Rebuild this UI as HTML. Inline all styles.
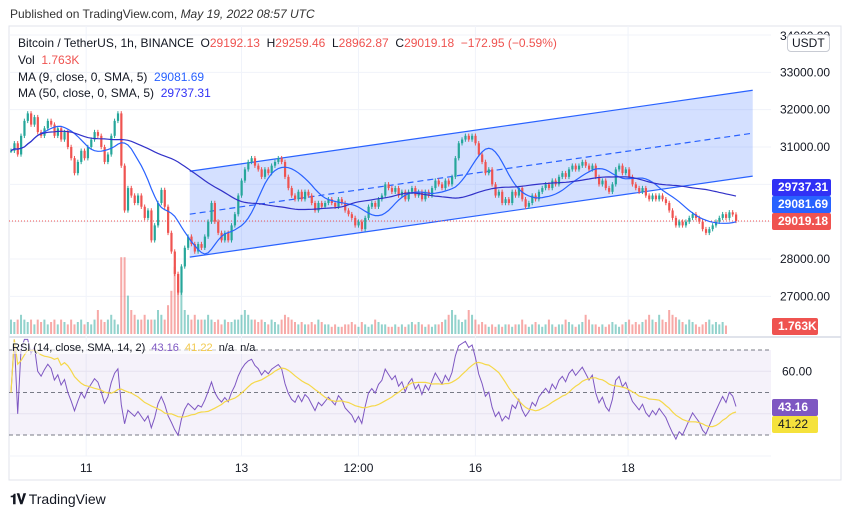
<!DOCTYPE html>
<html><head><meta charset="utf-8"><style>
body{margin:0;width:851px;height:518px;background:#fff;font-family:"Liberation Sans",sans-serif;overflow:hidden;position:relative;color:#131722}
.t{position:absolute;font-size:12px;white-space:nowrap}
.lbl{position:absolute;color:#fff;font-size:12px;font-weight:bold;height:17px;line-height:17px;padding-left:6px;border-radius:2px}
</style></head><body>
<div class="t" style="left:10px;top:7px;color:#333">Published on TradingView.com, <i>May 19, 2022 08:57 UTC</i></div>
<svg id="c" width="851" height="518" style="position:absolute;left:0;top:0"></svg>
<div class="t" style="left:18px;top:36px">Bitcoin / TetherUS, 1h, BINANCE &nbsp;O<span style="color:#ef5350">29192.13</span> &nbsp;H<span style="color:#ef5350">29259.46</span> &nbsp;L<span style="color:#ef5350">28962.87</span> &nbsp;C<span style="color:#ef5350">29019.18 &nbsp;−172.95 (−0.59%)</span></div>
<div class="t" style="left:18px;top:53px">Vol &nbsp;<span style="color:#ef5350">1.763K</span></div>
<div class="t" style="left:18px;top:70px">MA (9, close, 0, SMA, 5) &nbsp;<span style="color:#2962ff">29081.69</span></div>
<div class="t" style="left:18px;top:86px">MA (50, close, 0, SMA, 5) &nbsp;<span style="color:#3131f5">29737.31</span></div>
<div class="t" style="left:12px;top:342px;font-size:11px;background:rgba(255,255,255,0.6)">RSI (14, close, SMA, 14, 2) &nbsp;<span style="color:#7e57c2">43.16</span> &nbsp;<span style="color:#f2c94c">41.22</span> &nbsp;n/a &nbsp;n/a</div>
<div class="t" style="left:787px;top:34px;border:1px solid #c8cbd3;border-radius:4px;padding:1px 4px;background:#fff">USDT</div>
<div class="lbl" style="left:772px;top:179px;width:53px;background:#3131f5">29737.31</div>
<div class="lbl" style="left:772px;top:196px;width:53px;background:#2962ff">29081.69</div>
<div class="lbl" style="left:772px;top:213px;width:53px;background:#ef5350">29019.18</div>
<div class="lbl" style="left:772px;top:318px;width:40px;background:#ef5350">1.763K</div>
<div class="lbl" style="left:772px;top:399px;width:40px;background:#7e57c2">43.16</div>
<div class="lbl" style="left:772px;top:416px;width:40px;background:#f5e23c;color:#131722;font-weight:normal">41.22</div>
<div class="t" style="left:10px;top:491px;font-size:14px"><b style="letter-spacing:-1px">𝟏𝐕</b> TradingView</div>
<script>
const closes=[30900,31100,30800,31300,31700,31900,31600,31800,31400,31300,31500,31700,31600,31300,31500,31200,31400,31000,30700,30300,30600,30900,30700,31000,31200,31400,31300,31000,30600,30800,31300,31700,31900,30500,29300,29900,29700,29500,29700,29400,29100,29300,28500,28900,29500,29850,29400,28700,28200,27600,27100,27800,28300,28600,28400,28200,28400,28300,28600,29000,29500,29000,28700,28500,28700,28500,28900,29200,29700,30100,30400,30600,30700,30500,30400,30200,30400,30300,30500,30600,30700,30600,30200,29900,29700,29600,29800,29600,29800,29700,29500,29300,29500,29400,29500,29600,29500,29400,29600,29500,29300,29200,29100,28900,29000,28800,29100,29400,29500,29400,29600,29700,30000,29900,29800,29900,29700,29800,29600,29800,29900,29700,29800,29600,29800,29700,29900,30100,30000,29900,30100,30000,30200,30700,31100,31200,31300,31200,31300,31100,30800,30600,30300,30400,30000,29700,29800,29500,29600,29500,29800,29700,29900,29600,29400,29500,29700,29600,29800,29900,30000,29900,30100,30000,30200,30300,30200,30400,30500,30400,30500,30600,30500,30400,30500,30200,30000,30100,29900,29800,30000,30400,30500,30300,30400,30200,30000,29900,29800,29900,29700,29600,29700,29600,29700,29600,29500,29300,29100,28900,29000,28900,29000,29100,29200,29100,29000,28800,28700,28800,28900,29000,29100,29200,29100,29250,29192.13,29019.18];
const volumes=[3,2.5,3,4,3,2.5,3,2,3,2.5,3,2,2.5,3,2,3,2.5,2,3,2,2.5,3,2,2.5,2,3,5,3,2.5,3,4,3,2,16,16,8,5,4,3,3,4,3,3,3,5,4,3,6,9,14,12,9,5,4,3,4,3,3,3,4,3,2.5,3,2,3,2.5,2.5,3,3,4,5,4,3,3,2.5,3,2.5,2,3,2.5,2,3,4,3.5,3,2.5,2,2.5,2,2,2.5,2,3,2.5,2,2,1.5,2,1.5,1.5,2,2,2.5,2,1.5,2.5,2,1.5,2,3,2.5,2,2,1.5,1.5,2,1.5,2,1.5,2,2.5,2,2.5,2,1.5,2,1.5,2,2,2.5,3,4,5,4,3,2.5,3,5,4,3,2,2.5,2,1.5,2,1.5,2,1.5,2,2,1.5,2,2,3,2,1.5,2,2.5,2,1.5,2,3,2,1.5,2,2,3,2.5,2,1.5,2,2.5,4,3,2,2,1.5,2,1.5,2,2.5,2,1.5,2,2.5,3,2,2.5,2,2.5,3,4,3,2.5,4,3,2.5,5,4,3.5,3,2.5,2,3,2.5,2,1.5,2,2.5,3,2,2.5,2,2.5,1.763];
const priceTicks=[34000,33000,32000,31000,30000,29000,28000,27000];
const priceTickLabels=["","33000.00","32000.00","31000.00","","","28000.00","27000.00"];
const timeLabels=["11","13","12:00","16","18"];
const timeIdx=[22.5,69,104,139,184.7];
const channelIdx=[53.5,222];
const channelLow=[28050,30220];
const channelWidth=2300;

const svg=document.getElementById('c');const NS='http://www.w3.org/2000/svg';
function el(tag,a,parent){const e=document.createElementNS(NS,tag);for(const k in a)e.setAttribute(k,a[k]);(parent||svg).appendChild(e);return e;}
const n=closes.length;
const X=i=>11+i*(736-11)/(n-1);
const Y=p=>147+(31000-p)*0.03733;
const RY=v=>350+(70-v)*2.125;
const VY=v=>334-v*4.8;
let f=el('rect',{x:9,y:26,width:832,height:454,fill:'none',stroke:'#e0e3eb'});


el('line',{x1:9,y1:337,x2:841,y2:337,stroke:'#e0e3eb','stroke-width':2});
el('line',{x1:9,y1:456,x2:771,y2:456,stroke:'#f0f3fa'});
priceTicks.forEach((p,k)=>{const y=Y(p);if(y<28)return;
 el('line',{x1:9,y1:y,x2:771,y2:y,stroke:'#f0f3fa'});
 if(priceTickLabels[k]){const t=el('text',{x:780,y:y+4,'font-size':12,fill:'#131722','font-family':'Liberation Sans'});t.textContent=priceTickLabels[k];
 
 }
});
{const t=el('text',{x:780,y:40,'font-size':12,fill:'#131722'});t.textContent='34000.00';}
timeLabels.forEach((s,k)=>{const x=X(timeIdx[k]);
 el('line',{x1:x,y1:26,x2:x,y2:456,stroke:'#f0f3fa'});
 const t=el('text',{x:x,y:472,'font-size':12,fill:'#131722','text-anchor':'middle'});t.textContent=s;
 
 
});
el('rect',{x:9,y:RY(70),width:762,height:RY(30)-RY(70),fill:'rgba(126,87,194,0.08)'});
[70,50,30].forEach(v=>el('line',{x1:9,y1:RY(v),x2:771,y2:RY(v),stroke:'#787b86','stroke-dasharray':'4,3'}));
[60,40].forEach(v=>el('line',{x1:9,y1:RY(v),x2:771,y2:RY(v),stroke:'#e6e2f0'}));
{const t=el('text',{x:782,y:RY(60)+4,'font-size':12,fill:'#131722'});t.textContent='60.00';}
const cx1=X(channelIdx[0]),cx2=X(channelIdx[1]);
const l1=Y(channelLow[0]),l2=Y(channelLow[1]),u1=Y(channelLow[0]+channelWidth),u2=Y(channelLow[1]+channelWidth),m1=(l1+u1)/2,m2=(l2+u2)/2;
let ch=el('polygon',{points:`${cx1},${u1} ${cx2},${u2} ${cx2},${l2} ${cx1},${l1}`,fill:'rgba(41,98,255,0.2)'});


el('line',{x1:cx1,y1:u1,x2:cx2,y2:u2,stroke:'#2962ff','stroke-width':1.2});
el('line',{x1:cx1,y1:l1,x2:cx2,y2:l2,stroke:'#2962ff','stroke-width':1.2});
el('line',{x1:cx1,y1:m1,x2:cx2,y2:m2,stroke:'#2962ff','stroke-width':1.2,'stroke-dasharray':'6,4'});
closes.forEach((c,i)=>{const o=i?closes[i-1]:c;const up=c>=o;
 const r=el('rect',{x:X(i)-1,y:VY(volumes[i]),width:2,height:334-VY(volumes[i]),fill:up?'rgba(38,166,154,0.5)':'rgba(239,83,80,0.5)'});
 
 
});
el('line',{x1:9,y1:Y(29019.18),x2:771,y2:Y(29019.18),stroke:'#ef5350','stroke-dasharray':'1,2'});
closes.forEach((c,i)=>{const o=i?closes[i-1]:c;const up=c>=o;const col=up?'#26a69a':'#ef5350';
 const hi=Math.max(o,c)+60,lo=Math.min(o,c)-60;
 el('line',{x1:X(i),y1:Y(hi),x2:X(i),y2:Y(lo),stroke:col,'stroke-width':1});
 const r=el('rect',{x:X(i)-1,y:Y(Math.max(o,c)),width:2.2,height:Math.max(1,Y(Math.min(o,c))-Y(Math.max(o,c))),fill:col});
 
 
});
function sma(a,p){return a.map((v,i)=>{const s=a.slice(Math.max(0,i-p+1),i+1);return s.reduce((x,y)=>x+y,0)/s.length;});}
function line(vals,yf,col,w,name){const d=vals.map((v,i)=>(i?'L':'M')+X(i).toFixed(1)+','+yf(v).toFixed(1)).join('');
 const p=el('path',{d:d,fill:'none',stroke:col,'stroke-width':w});
 
 }
line(sma(sma(closes,9),5),Y,'#2962ff',1.2,'ma9-line');
line(sma(sma(closes,50),5),Y,'#3131c8',1.2,'ma50-line');
const rsi=[];let ag=0,al=0;
closes.forEach((c,i)=>{if(i===0){rsi.push(50);return;}const d=c-closes[i-1];const g=Math.max(d,0),l=Math.max(-d,0);
 if(i<=14){ag+=g/14;al+=l/14;}else{ag=(ag*13+g)/14;al=(al*13+l)/14;}
 rsi.push(al===0?100:100-100/(1+ag/al));});
line(rsi,v=>RY(Math.max(25,Math.min(75,v))),'#7e57c2',1,'rsi-line');
line(sma(rsi,14),RY,'#f5d84a',1.2,'rsi-sma-line');
</script>
</body></html>
